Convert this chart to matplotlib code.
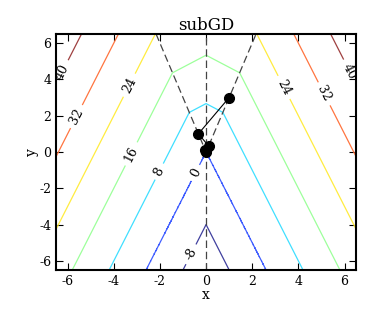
import numpy as np
import matplotlib
matplotlib.use("Agg")
import matplotlib.pyplot as plt

# Objective: f(x, y) = max over pieces of (a*|x| + b*y)
piece_abs_x = [2.0, 5.0]
piece_y = [3.0, 2.0]
levels = [-8, 0, 8, 16, 24, 32, 40]

# subgradient iterates
iter_x = [1.0, -0.333, 0.111, -0.037, 0.012, -0.004]
iter_y = [3.0, 1.0, 0.333, 0.111, 0.037, 0.012]

xlim = (-6.5, 6.5)
ylim = (-6.5, 6.5)
ticks = [-6, -4, -2, 0, 2, 4, 6]

label_pos = [(-6.22, 4.41), (-5.57, 1.92), (-3.34, 3.69), (-3.19, -0.14),
             (-2.0, -1.1), (-0.47, -1.15), (-0.62, -5.66),
             (3.38, 3.56), (5.16, 3.23), (6.15, 4.41)]

plt.rcParams['font.family'] = ['DejaVu Serif']
plt.rcParams['axes.unicode_minus'] = False

fig = plt.figure(figsize=(3.74, 3.15), dpi=100)
ax = fig.add_axes([0.150, 0.143, 0.802, 0.749])

gx = np.linspace(xlim[0], xlim[1], 801)
gy = np.linspace(ylim[0], ylim[1], 801)
X, Y = np.meshgrid(gx, gy)
Z = np.max([a * np.abs(X) + b * Y for a, b in zip(piece_abs_x, piece_y)], axis=0)

jet = plt.get_cmap('jet')
norm = plt.Normalize(levels[0], levels[-1])
line_colors = []
for lv in levels:
    c = np.array(jet(norm(lv))[:3])
    line_colors.append(tuple(0.75 * c + 0.25))

cs = ax.contour(X, Y, Z, levels=levels, colors=line_colors, linewidths=0.9)
ax.clabel(cs, inline=True, fontsize=9, fmt='%d', manual=label_pos, colors='k')

# non-differentiable set: x = 0 and y = slope*|x|
slope = (piece_abs_x[1] - piece_abs_x[0]) / (piece_y[0] - piece_y[1])
ax.axvline(0, color='#444444', lw=0.9, dashes=(6, 3))
bx = np.array([-ylim[1] / slope, 0, ylim[1] / slope])
ax.plot(bx, slope * np.abs(bx), color='#444444', lw=0.9, dashes=(6, 3))

ax.plot(iter_x, iter_y, color='k', lw=0.8, marker='o', markersize=7)

ax.set_xlim(*xlim)
ax.set_ylim(*ylim)
ax.set_xticks(ticks)
ax.set_yticks(ticks)
ax.tick_params(direction='in', top=True, right=True, length=5, labelsize=9)
for s in ax.spines.values():
    s.set_linewidth(1.5)
ax.set_xlabel('x', fontsize=10, labelpad=0)
ax.set_ylabel('y', fontsize=10, labelpad=0)
ax.set_title('subGD', fontsize=12, pad=3)

fig.savefig('out.png', dpi=100)
